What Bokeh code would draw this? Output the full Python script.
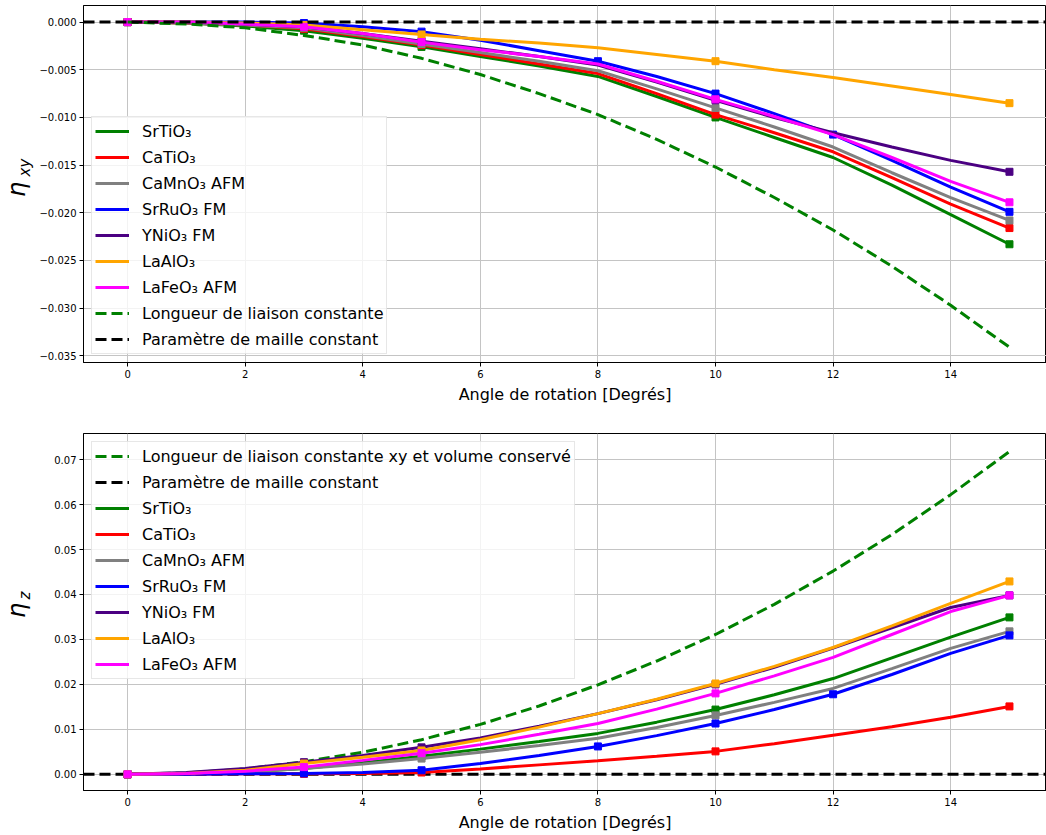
from bokeh.plotting import figure
from bokeh.models import Range1d, FixedTicker, Legend, LegendItem, ColumnDataSource
from bokeh.layouts import column, row
from bokeh.core.properties import value
from bokeh.embed import file_html
from bokeh.resources import INLINE

# ---------------- data ----------------
angles = list(range(16))                      # rotation angle in degrees
markers_std = [0, 3, 5, 10, 15]               # computed points (most materials)
markers_ruo = [0, 3, 5, 8, 10, 12, 15]        # computed points (SrRuO3)

names = ["SrTiO₃", "CaTiO₃", "CaMnO₃ AFM", "SrRuO₃ FM", "YNiO₃ FM", "LaAlO₃", "LaFeO₃ AFM"]
colors = ["green", "red", "gray", "blue", "indigo", "orange", "magenta"]

# eta_xy (top panel)
srtio3_xy = [0, -0.0001, -0.0004, -0.0009, -0.0017, -0.0026, -0.0036, -0.0046, -0.0057, -0.0078, -0.0100, -0.0121, -0.0142, -0.0171, -0.0202, -0.0233]
catio3_xy = [0, -0.0001, -0.0003, -0.0007, -0.0015, -0.0024, -0.0034, -0.0044, -0.0054, -0.0075, -0.0097, -0.0116, -0.0136, -0.0163, -0.0191, -0.0216]
camno3_xy = [0, -0.0001, -0.0003, -0.0006, -0.0014, -0.0023, -0.0032, -0.0041, -0.0051, -0.0070, -0.0090, -0.0110, -0.0131, -0.0158, -0.0184, -0.0208]
srruo3_xy = [0, 0.0000, 0.0000, -0.0001, -0.0005, -0.0010, -0.0019, -0.0030, -0.0041, -0.0057, -0.0075, -0.0096, -0.0118, -0.0145, -0.0173, -0.0199]
ynio3_xy = [0, 0.0000, -0.0002, -0.0005, -0.0012, -0.0020, -0.0028, -0.0036, -0.0045, -0.0063, -0.0082, -0.0100, -0.0116, -0.0131, -0.0145, -0.0157]
laalo3_xy = [0, 0.0000, -0.0001, -0.0003, -0.0008, -0.0013, -0.0018, -0.0022, -0.0027, -0.0034, -0.0041, -0.0050, -0.0058, -0.0067, -0.0076, -0.0085]
lafeo3_xy = [0, 0.0000, -0.0002, -0.0005, -0.0012, -0.0021, -0.0029, -0.0036, -0.0044, -0.0062, -0.0081, -0.0099, -0.0118, -0.0142, -0.0167, -0.0189]
bond_xy = [0, -0.0002, -0.0006, -0.0014, -0.0024, -0.0038, -0.0055, -0.0075, -0.0097, -0.0123, -0.0152, -0.0184, -0.0218, -0.0256, -0.0297, -0.0341]

# eta_z (bottom panel)
srtio3_z = [0, 0.0001, 0.0005, 0.0013, 0.0026, 0.0040, 0.0056, 0.0073, 0.0091, 0.0116, 0.0144, 0.0177, 0.0213, 0.0259, 0.0305, 0.0349]
catio3_z = [0, 0.0000, 0.0001, 0.0001, 0.0002, 0.0004, 0.0012, 0.0021, 0.0030, 0.0040, 0.0051, 0.0068, 0.0087, 0.0106, 0.0127, 0.0151]
camno3_z = [0, 0.0001, 0.0005, 0.0013, 0.0023, 0.0035, 0.0049, 0.0064, 0.0080, 0.0104, 0.0131, 0.0160, 0.0191, 0.0235, 0.0280, 0.0318]
srruo3_z = [0, 0.0000, 0.0001, 0.0002, 0.0004, 0.0009, 0.0024, 0.0042, 0.0062, 0.0086, 0.0113, 0.0144, 0.0178, 0.0222, 0.0269, 0.0309]
ynio3_z = [0, 0.0004, 0.0013, 0.0027, 0.0042, 0.0060, 0.0081, 0.0107, 0.0135, 0.0166, 0.0200, 0.0238, 0.0281, 0.0326, 0.0371, 0.0398]
laalo3_z = [0, 0.0002, 0.0009, 0.0024, 0.0038, 0.0053, 0.0077, 0.0105, 0.0135, 0.0167, 0.0202, 0.0240, 0.0282, 0.0330, 0.0380, 0.0429]
lafeo3_z = [0, 0.0002, 0.0007, 0.0016, 0.0031, 0.0047, 0.0066, 0.0089, 0.0113, 0.0145, 0.0180, 0.0219, 0.0260, 0.0311, 0.0362, 0.0398]
bond_z = [0, 0.0003, 0.0012, 0.0028, 0.0049, 0.0077, 0.0111, 0.0152, 0.0199, 0.0252, 0.0311, 0.0378, 0.0452, 0.0533, 0.0622, 0.0718]

x_ticks = [0, 2, 4, 6, 8, 10, 12, 14]
y_ticks_xy = [0.0, -0.005, -0.010, -0.015, -0.020, -0.025, -0.030, -0.035]
y_labels_xy = ["0.000", "−0.005", "−0.010", "−0.015", "−0.020", "−0.025", "−0.030", "−0.035"]
y_ticks_z = [0.0, 0.01, 0.02, 0.03, 0.04, 0.05, 0.06, 0.07]
y_labels_z = ["0.00", "0.01", "0.02", "0.03", "0.04", "0.05", "0.06", "0.07"]

lbl_bond_xy = "Longueur de liaison constante"
lbl_bond_z = "Longueur de liaison constante xy et volume conservé"
lbl_const = "Paramètre de maille constant"
x_title = "Angle de rotation [Degrés]"
y_title_main = "η"
y_title_sub_xy = "xy"
y_title_sub_z = "z"

FONT = "DejaVu Sans"
LEFT_W = 36
W = 1046 - LEFT_W
X_RANGE = (-0.75, 15.63)


def style(p, yticks, ylabels):
    p.xaxis.ticker = FixedTicker(ticks=x_ticks)
    p.yaxis.ticker = FixedTicker(ticks=yticks)
    p.yaxis.major_label_overrides = {t: l for t, l in zip(yticks, ylabels)}
    for ax in (p.xaxis[0], p.yaxis[0]):
        ax.major_label_text_font = FONT
        ax.major_label_text_font_size = "10px"
        ax.major_label_text_color = "black"
        ax.axis_line_color = "black"
        ax.major_tick_line_color = "black"
        ax.major_tick_out = 4
        ax.major_tick_in = 0
        ax.minor_tick_line_color = None
        ax.major_label_standoff = 3
    p.xaxis.axis_label = x_title
    p.xaxis.axis_label_text_font = FONT
    p.xaxis.axis_label_text_font_size = "16px"
    p.xaxis.axis_label_text_font_style = "normal"
    p.xaxis.axis_label_text_color = "black"
    p.xaxis.axis_label_standoff = 4
    p.grid.grid_line_color = "#c4c4c4"
    p.grid.grid_line_width = 1
    p.outline_line_color = "black"
    p.outline_line_width = 1
    p.background_fill_color = "white"
    p.border_fill_color = "white"


def add_material(p, i, series, idx):
    src = ColumnDataSource(dict(x=angles, y=series))
    r = p.line("x", "y", source=src, line_color=colors[i], line_width=3)
    msrc = ColumnDataSource(dict(x=[angles[k] for k in idx], y=[series[k] for k in idx]))
    p.scatter("x", "y", source=msrc, marker="square", size=7,
              fill_color=colors[i], line_color=colors[i])
    return r


def make_legend(items, loc):
    return Legend(items=items, location=loc, margin=8, padding=3, spacing=4,
                  label_height=22, glyph_height=22, glyph_width=34, label_standoff=13,
                  label_text_font=FONT, label_text_font_size="16px", label_text_color="black",
                  border_line_color="#d0d0d0", border_line_width=1,
                  background_fill_color="white", background_fill_alpha=0.8)


# ---------------- top panel: eta_xy ----------------
p1 = figure(width=W, height=410, output_backend="svg", toolbar_location=None,
            x_range=Range1d(*X_RANGE), y_range=Range1d(-0.0357, 0.00174),
            min_border_left=82 - LEFT_W, min_border_right=0, min_border_top=5, min_border_bottom=48)
style(p1, y_ticks_xy, y_labels_xy)

top_series = [srtio3_xy, catio3_xy, camno3_xy, srruo3_xy, ynio3_xy, laalo3_xy, lafeo3_xy]
items1 = []
for i, s in enumerate(top_series):
    idx = markers_ruo if names[i].startswith("SrRuO") else markers_std
    r = add_material(p1, i, s, idx)
    items1.append(LegendItem(label=names[i], renderers=[r]))
rb = p1.line(angles, bond_xy, line_color="green", line_width=3, line_dash="11 5")
items1.append(LegendItem(label=lbl_bond_xy, renderers=[rb]))
rc = p1.line([X_RANGE[0], X_RANGE[1]], [0, 0], line_color="black", line_width=3, line_dash="11 5")
items1.append(LegendItem(label=lbl_const, renderers=[rc]))
p1.add_layout(make_legend(items1, "bottom_left"))

# ---------------- bottom panel: eta_z ----------------
p2 = figure(width=W, height=425, output_backend="svg", toolbar_location=None,
            x_range=Range1d(*X_RANGE), y_range=Range1d(-0.0036, 0.0758),
            min_border_left=82 - LEFT_W, min_border_right=0, min_border_top=23, min_border_bottom=45)
style(p2, y_ticks_z, y_labels_z)

items2 = []
rb2 = p2.line(angles, bond_z, line_color="green", line_width=3, line_dash="11 5")
items2.append(LegendItem(label=lbl_bond_z, renderers=[rb2]))
rc2 = p2.line([X_RANGE[0], X_RANGE[1]], [0, 0], line_color="black", line_width=3, line_dash="11 5")
items2.append(LegendItem(label=lbl_const, renderers=[rc2]))
bottom_series = [srtio3_z, catio3_z, camno3_z, srruo3_z, ynio3_z, laalo3_z, lafeo3_z]
for i, s in enumerate(bottom_series):
    idx = markers_ruo if names[i].startswith("SrRuO") else markers_std
    r = add_material(p2, i, s, idx)
    items2.append(LegendItem(label=names[i], renderers=[r]))
p2.add_layout(make_legend(items2, "top_left"))

# ---------------- left strip holding the rotated y titles ----------------
pl = figure(width=LEFT_W, height=835, output_backend="svg", toolbar_location=None,
            x_range=Range1d(0, LEFT_W), y_range=Range1d(835, 0), min_border=0)
pl.axis.visible = False
pl.grid.visible = False
pl.outline_line_color = None
pl.background_fill_color = "white"
pl.border_fill_color = "white"
pl.text(x=[16, 16], y=[189, 610], text=[y_title_main, y_title_main], angle=1.5708,
        text_font=value(FONT), text_font_size="24px", text_font_style="italic",
        text_align="center", text_baseline="middle", text_color="black")
pl.text(x=[24, 24], y=[167, 595], text=[y_title_sub_xy, y_title_sub_z], angle=1.5708,
        text_font=value(FONT), text_font_size="15px", text_font_style="italic",
        text_align="center", text_baseline="middle", text_color="black")

layout = row(pl, column(p1, p2, spacing=0), spacing=0)
open("out.html", "w").write(file_html(layout, INLINE))
